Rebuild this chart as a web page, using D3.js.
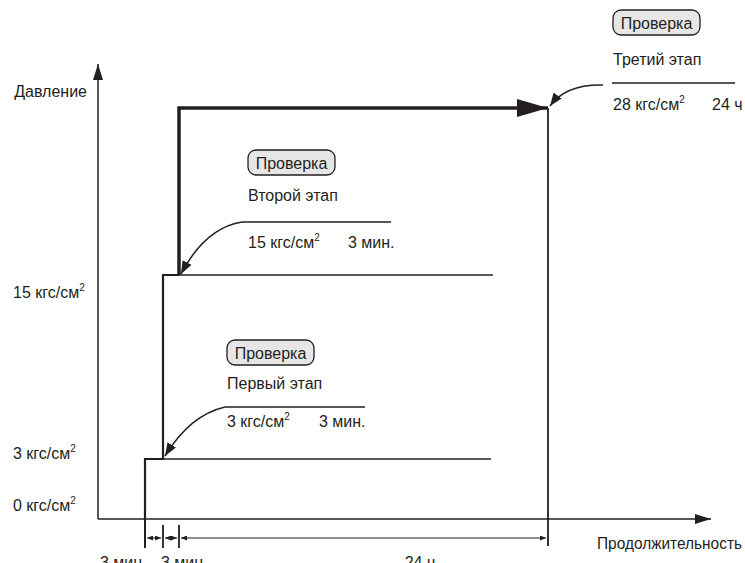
<!DOCTYPE html>
<html>
<head>
<meta charset="utf-8">
<script src="https://cdn.jsdelivr.net/npm/d3@7"></script>
<style>
  body { margin: 0; background: #fff; }
  svg text { font-family: "Liberation Sans", Arial, sans-serif; fill: #231f20; }
</style>
</head>
<body>
<div id="chart"></div>
<script>
// pressure test diagram: three stages, step up of pressure over time

var pressureLevels = [0, 3, 15, 28];        // кгс/см2, levels of the step curve
var yLabelValues = [0, 3, 15];              // labelled on the pressure axis
var stageNames = ["Первый этап", "Второй этап", "Третий этап"];
var stagePressure = [3, 15, 28];
var stageHold = ["3 мин.", "3 мин.", "24 ч"];
var phaseLabels = ["3 мин", "3 мин", "24 ч"]; // below the time axis
var phaseIndex = [0, 1, 2, 3];              // boundaries between phases
var checkLabel = "Проверка";
var unit = "кгс/см";

var width = 745, height = 563;
var ink = "#231f20";
var fs = 16;

var svg = d3.select("#chart").append("svg")
    .attr("width", width).attr("height", height);

// scales are piecewise: the drawing is not to scale
var y = d3.scaleLinear().domain(pressureLevels).range([519, 459, 275, 108]);
var x = d3.scaleLinear().domain(phaseIndex).range([145, 163, 179, 548]);
var x0 = 98; // pressure axis

var defs = svg.append("defs");
function marker(id, len, half) {
  defs.append("marker")
      .attr("id", id)
      .attr("markerUnits", "userSpaceOnUse")
      .attr("viewBox", "0 " + (-half) + " " + len + " " + (half * 2))
      .attr("refX", len).attr("refY", 0)
      .attr("markerWidth", len).attr("markerHeight", half * 2)
      .attr("orient", "auto-start-reverse")
    .append("path")
      .attr("d", "M0," + (-half) + "L" + len + ",0L0," + half + "Z")
      .attr("fill", ink);
}
marker("axisHead", 16, 5);
marker("bigHead", 31, 9);
marker("curveHead", 13, 5);
marker("smallHead", 6, 2.5);

// axes
svg.append("line")
    .attr("x1", x0).attr("y1", y(0)).attr("x2", x0).attr("y2", 64)
    .attr("stroke", ink).attr("stroke-width", 1.5)
    .attr("marker-end", "url(#axisHead)");
svg.append("line")
    .attr("x1", x0).attr("y1", y(0)).attr("x2", 711).attr("y2", y(0))
    .attr("stroke", ink).attr("stroke-width", 1.5)
    .attr("marker-end", "url(#axisHead)");

svg.append("text").attr("x", 87).attr("y", 97)
    .attr("text-anchor", "end").attr("font-size", fs).text("Давление");
svg.append("text").attr("x", 597).attr("y", 549)
    .attr("font-size", fs)
    .attr("textLength", 145).attr("lengthAdjust", "spacingAndGlyphs")
    .text("Продолжительность");

// pressure labels (hand placed in the original, so small nudges)
var yLabelDy = { 0: -8, 3: 0, 15: 23 };
function unitText(sel, value) {
  sel.append("tspan").text(value + " " + unit);
  sel.append("tspan").attr("font-size", 10).attr("dy", -7).text("2");
}
yLabelValues.forEach(function(v) {
  var t = svg.append("text").attr("x", 13).attr("y", y(v) + yLabelDy[v])
      .attr("font-size", fs);
  unitText(t, v);
});

// long thin lines at the hold levels of stage 1 and 2
var holdEnd = [491, 493];
[3, 15].forEach(function(p, i) {
  svg.append("line")
      .attr("x1", x(i)).attr("y1", y(p)).attr("x2", holdEnd[i]).attr("y2", y(p))
      .attr("stroke", ink).attr("stroke-width", 1.4);
});

// step curve
var line = d3.line().x(function(d) { return x(d[0]); }).y(function(d) { return y(d[1]); });
svg.append("path")
    .attr("d", line([[0, 0], [0, 3], [1, 3], [1, 15], [2, 15]]))
    .attr("fill", "none").attr("stroke", ink).attr("stroke-width", 2.2);
svg.append("path")
    .attr("d", line([[2, 15], [2, 28], [3, 28]]))
    .attr("fill", "none").attr("stroke", ink).attr("stroke-width", 3.5)
    .attr("stroke-linejoin", "miter")
    .attr("marker-end", "url(#bigHead)");

// end of stage 3
svg.append("line")
    .attr("x1", x(3)).attr("y1", y(28)).attr("x2", x(3)).attr("y2", 546)
    .attr("stroke", ink).attr("stroke-width", 1.8);

// ticks and duration arrows under the time axis
svg.append("line")
    .attr("x1", x(0)).attr("y1", y(0)).attr("x2", x(0)).attr("y2", 548)
    .attr("stroke", ink).attr("stroke-width", 2);
[1, 2].forEach(function(i) {
  svg.append("line")
      .attr("x1", x(i)).attr("y1", 525).attr("x2", x(i)).attr("y2", 548)
      .attr("stroke", ink).attr("stroke-width", 1.8);
});
phaseLabels.forEach(function(lbl, i) {
  svg.append("line")
      .attr("x1", x(i) + 2).attr("y1", 538).attr("x2", x(i + 1) - 2).attr("y2", 538)
      .attr("stroke", ink).attr("stroke-width", 1)
      .attr("marker-start", "url(#smallHead)")
      .attr("marker-end", "url(#smallHead)");
});
var phaseLabelX = [121, 182, 420];
phaseLabels.forEach(function(lbl, i) {
  svg.append("text").attr("x", phaseLabelX[i]).attr("y", 568)
      .attr("text-anchor", "middle").attr("font-size", fs).text(lbl);
});

// check annotations
var notes = [
  { bx: 227, by: 340, titleY: 389, lineY: 407, lx1: 225, lx2: 365, valY: 427, holdX: 319, cx: 190, cy: 415, tx: x(1) + 2, ty: y(3) - 3 },
  { bx: 248, by: 150, titleY: 201, lineY: 222, lx1: 242, lx2: 391, valY: 248, holdX: 348, cx: 205, cy: 228, tx: x(2) + 2, ty: y(15) - 1 },
  { bx: 613, by: 10, titleY: 65, lineY: 83, lx1: 612, lx2: 735, valY: 110, holdX: 712, cx: 566, cy: 84, tx: x(3) + 2, ty: y(28) - 2, sx: 603, sy: 85 }
];

notes.forEach(function(n, i) {
  var g = svg.append("g");
  g.append("rect")
      .attr("x", n.bx).attr("y", n.by).attr("width", 87).attr("height", 25)
      .attr("rx", 8).attr("ry", 8)
      .attr("fill", "#e6e6e6").attr("stroke", ink).attr("stroke-width", 1.3);
  g.append("text").attr("x", n.bx + 43.5).attr("y", n.by + 18.5)
      .attr("text-anchor", "middle").attr("font-size", fs).text(checkLabel);
  g.append("text").attr("x", n.bx).attr("y", n.titleY)
      .attr("font-size", fs).text(stageNames[i]);
  g.append("line")
      .attr("x1", n.lx1).attr("y1", n.lineY).attr("x2", n.lx2).attr("y2", n.lineY)
      .attr("stroke", ink).attr("stroke-width", 1.5);
  var t = g.append("text").attr("x", n.bx).attr("y", n.valY).attr("font-size", fs);
  unitText(t, stagePressure[i]);
  g.append("text").attr("x", n.holdX).attr("y", n.valY)
      .attr("font-size", fs).text(stageHold[i]);

  var sx = n.sx !== undefined ? n.sx : n.lx1;
  var sy = n.sy !== undefined ? n.sy : n.lineY;
  var p = d3.path();
  p.moveTo(sx, sy);
  p.quadraticCurveTo(n.cx, n.cy, n.tx, n.ty);
  g.append("path").attr("d", p.toString())
      .attr("fill", "none").attr("stroke", ink).attr("stroke-width", 1.5)
      .attr("marker-end", "url(#curveHead)");
});
</script>
</body>
</html>
